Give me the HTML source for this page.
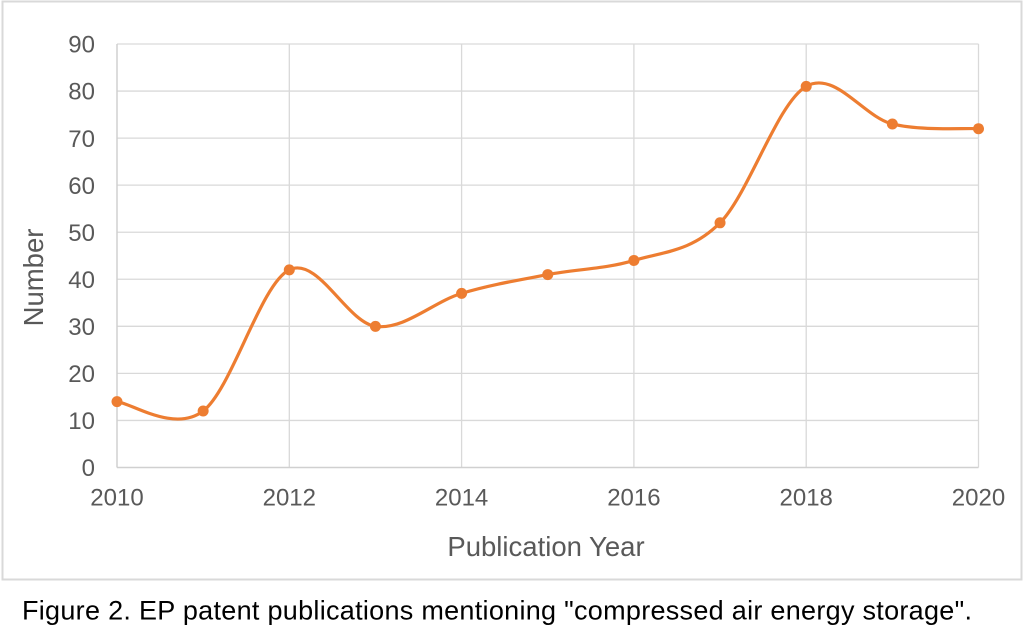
<!DOCTYPE html>
<html>
<head>
<meta charset="utf-8">
<style>
  html,body{margin:0;padding:0;background:#fff;}
  svg{display:block;}
  text{font-family:"Liberation Sans", Arial, sans-serif;}
</style>
</head>
<body>
<svg width="1024" height="639" viewBox="0 0 1024 639" xmlns="http://www.w3.org/2000/svg">
  <rect x="0" y="0" width="1024" height="639" fill="#fff"/>
  <!-- outer chart border -->
  <rect x="2.5" y="1.5" width="1019" height="578" fill="none" stroke="#d9d9d9" stroke-width="2"/>

  <!-- horizontal gridlines -->
  <g stroke="#d9d9d9" stroke-width="1.3" fill="none">
    <line x1="117" y1="420.44" x2="978.5" y2="420.44"/>
    <line x1="117" y1="373.39" x2="978.5" y2="373.39"/>
    <line x1="117" y1="326.33" x2="978.5" y2="326.33"/>
    <line x1="117" y1="279.28" x2="978.5" y2="279.28"/>
    <line x1="117" y1="232.22" x2="978.5" y2="232.22"/>
    <line x1="117" y1="185.16" x2="978.5" y2="185.16"/>
    <line x1="117" y1="138.11" x2="978.5" y2="138.11"/>
    <line x1="117" y1="91.05" x2="978.5" y2="91.05"/>
    <line x1="117" y1="44" x2="978.5" y2="44"/>
    <!-- vertical gridlines -->
    <line x1="289.3" y1="44" x2="289.3" y2="467.5"/>
    <line x1="461.6" y1="44" x2="461.6" y2="467.5"/>
    <line x1="633.9" y1="44" x2="633.9" y2="467.5"/>
    <line x1="806.2" y1="44" x2="806.2" y2="467.5"/>
    <line x1="978.5" y1="44" x2="978.5" y2="467.5"/>
  </g>
  <!-- axes -->
  <g stroke="#d0d0d0" stroke-width="1.5">
    <line x1="117" y1="44" x2="117" y2="467.5"/>
    <line x1="117" y1="467.5" x2="978.5" y2="467.5"/>
  </g>

  <!-- y tick labels -->
  <g fill="#595959" font-size="24" text-anchor="end">
    <text x="95" y="476.2">0</text>
    <text x="95" y="429.1">10</text>
    <text x="95" y="382.1">20</text>
    <text x="95" y="335.0">30</text>
    <text x="95" y="288.0">40</text>
    <text x="95" y="240.9">50</text>
    <text x="95" y="193.9">60</text>
    <text x="95" y="146.8">70</text>
    <text x="95" y="99.7">80</text>
    <text x="95" y="52.7">90</text>
  </g>

  <!-- x tick labels -->
  <g fill="#595959" font-size="24" text-anchor="middle">
    <text x="117" y="505.5">2010</text>
    <text x="289.3" y="505.5">2012</text>
    <text x="461.6" y="505.5">2014</text>
    <text x="633.9" y="505.5">2016</text>
    <text x="806.2" y="505.5">2018</text>
    <text x="978.5" y="505.5">2020</text>
  </g>

  <!-- axis titles -->
  <text x="546" y="556" fill="#595959" font-size="27.5" text-anchor="middle">Publication Year</text>
  <text transform="translate(43,277.5) rotate(-90)" x="0" y="0" fill="#595959" font-size="27.5" text-anchor="middle">Number</text>

  <!-- series -->
  <path fill="none" stroke="#ED7D31" stroke-width="3.2" stroke-linecap="round" stroke-linejoin="round"
    d="M117,401.62
       C131.36,403.19 174.43,432.99 203.15,411.03
       C231.87,389.07 260.58,283.98 289.3,269.86
       C318.02,255.74 346.73,322.41 375.45,326.33
       C404.17,330.25 432.88,302.02 461.6,293.39
       C490.32,284.76 519.03,280.06 547.75,274.57
       C576.47,269.08 605.18,269.08 633.9,260.45
       C662.62,251.82 691.33,251.83 720.05,222.81
       C748.77,193.79 777.48,102.82 806.2,86.35
       C834.92,69.88 863.63,116.93 892.35,123.99
       C921.07,131.05 964.14,127.92 978.5,128.70"/>
  <g fill="#ED7D31">
    <circle cx="117" cy="401.62" r="5.5"/>
    <circle cx="203.15" cy="411.03" r="5.5"/>
    <circle cx="289.3" cy="269.86" r="5.5"/>
    <circle cx="375.45" cy="326.33" r="5.5"/>
    <circle cx="461.6" cy="293.39" r="5.5"/>
    <circle cx="547.75" cy="274.57" r="5.5"/>
    <circle cx="633.9" cy="260.45" r="5.5"/>
    <circle cx="720.05" cy="222.81" r="5.5"/>
    <circle cx="806.2" cy="86.35" r="5.5"/>
    <circle cx="892.35" cy="123.99" r="5.5"/>
    <circle cx="978.5" cy="128.70" r="5.5"/>
  </g>

  <!-- caption -->
  <text x="22" y="619.5" fill="#000" font-size="27" textLength="950" lengthAdjust="spacing">Figure 2. EP patent publications mentioning "compressed air energy storage".</text>
</svg>
</body>
</html>
